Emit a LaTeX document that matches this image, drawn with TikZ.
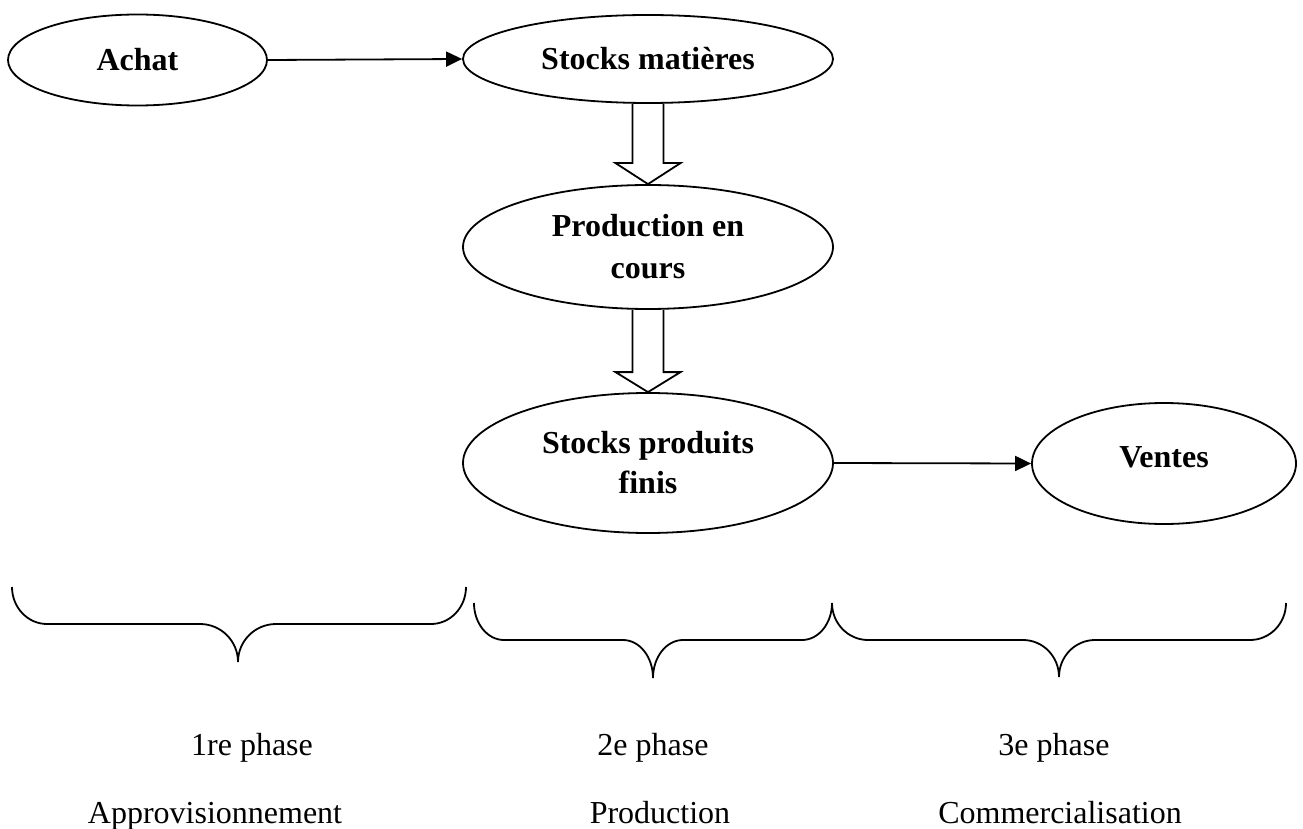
\documentclass[tikz,border=0pt]{standalone}
\usepackage{fontspec}
\setmainfont{Liberation Serif}
\usetikzlibrary{shapes.geometric,arrows.meta}
\begin{document}
\begin{tikzpicture}[x=1pt,y=-1pt,
  ell/.style={draw,ellipse,line width=1.8pt,inner sep=0pt,align=center,
    font=\fontsize{32}{40}\selectfont\bfseries},
  flow/.style={line width=1.8pt,-{Triangle[length=16pt,width=15pt]}},
  dbl/.style={line width=1.8pt,line join=miter},
  brace/.style={line width=1.8pt},
  lbl/.style={anchor=base,inner sep=0pt,font=\fontsize{32}{38}\selectfont}]
\useasboundingbox (0,0) rectangle (1303,829);

\node[ell,minimum width=259pt,minimum height=91pt] (achat) at (137.5,60) {Achat};
\node[ell,minimum width=370pt,minimum height=88pt] (sm) at (648,59) {Stocks matières};
\node[ell,minimum width=370pt,minimum height=124pt] (pc) at (648,247)
  {\raisebox{-6pt}{\parbox{200pt}{\centering\fontsize{32}{42}\selectfont Production en\\cours}}};
\node[ell,minimum width=370pt,minimum height=140pt] (spf) at (648,463) {Stocks produits\\finis};
\node[ell,minimum width=264pt,minimum height=121pt] (ventes) at (1164,463.5) {\raisebox{13pt}{Ventes}};

\draw[flow] (achat.east) -- (sm.west);
\draw[flow] (spf.east) -- (ventes.west);

\draw[dbl] ([xshift=-15.5pt]sm.south) -- ([shift={(-15.5pt,21pt)}]pc.north)
  -- ([shift={(-32.5pt,21pt)}]pc.north) -- (pc.north)
  -- ([shift={(32.5pt,21pt)}]pc.north) -- ([shift={(15.5pt,21pt)}]pc.north)
  -- ([xshift=15.5pt]sm.south);
\draw[dbl] ([xshift=-15.5pt]pc.south) -- ([shift={(-15.5pt,20pt)}]spf.north)
  -- ([shift={(-32.5pt,20pt)}]spf.north) -- (spf.north)
  -- ([shift={(32.5pt,20pt)}]spf.north) -- ([shift={(15.5pt,20pt)}]spf.north)
  -- ([xshift=15.5pt]pc.south);

% braces
\draw[brace] (12,587) .. controls (12,607.4) and (27.7,624) .. (47,624) -- (200,624)
  .. controls (221,624) and (238,641) .. (238,662)
  .. controls (238,641) and (255,624) .. (276,624) -- (431,624)
  .. controls (450.3,624) and (466,607.4) .. (466,587);
\draw[brace] (474,603) .. controls (474,623.4) and (487.4,640) .. (504,640) -- (623,640)
  .. controls (639.6,640) and (653,657) .. (653,678)
  .. controls (653,657) and (666.4,640) .. (683,640) -- (802,640)
  .. controls (818.6,640) and (832,623.4) .. (832,603);
\draw[brace] (832,603) .. controls (832,623.4) and (848.1,640) .. (868,640) -- (1023,640)
  .. controls (1043,640) and (1059,656.6) .. (1059,677)
  .. controls (1059,656.6) and (1075,640) .. (1095,640) -- (1250,640)
  .. controls (1269.9,640) and (1286,623.4) .. (1286,603);

\node[lbl] (p1) at (252,755) {1re phase};
\node[lbl] (p2) at (653,755) {2e phase};
\node[lbl] (p3) at (1054,755) {3e phase};
\node[lbl] (n1) at (215,823) {Approvisionnement};
\node[lbl] (n2) at (660,823) {Production};
\node[lbl] (n3) at (1060,823) {Commercialisation};
\end{tikzpicture}
\end{document}
